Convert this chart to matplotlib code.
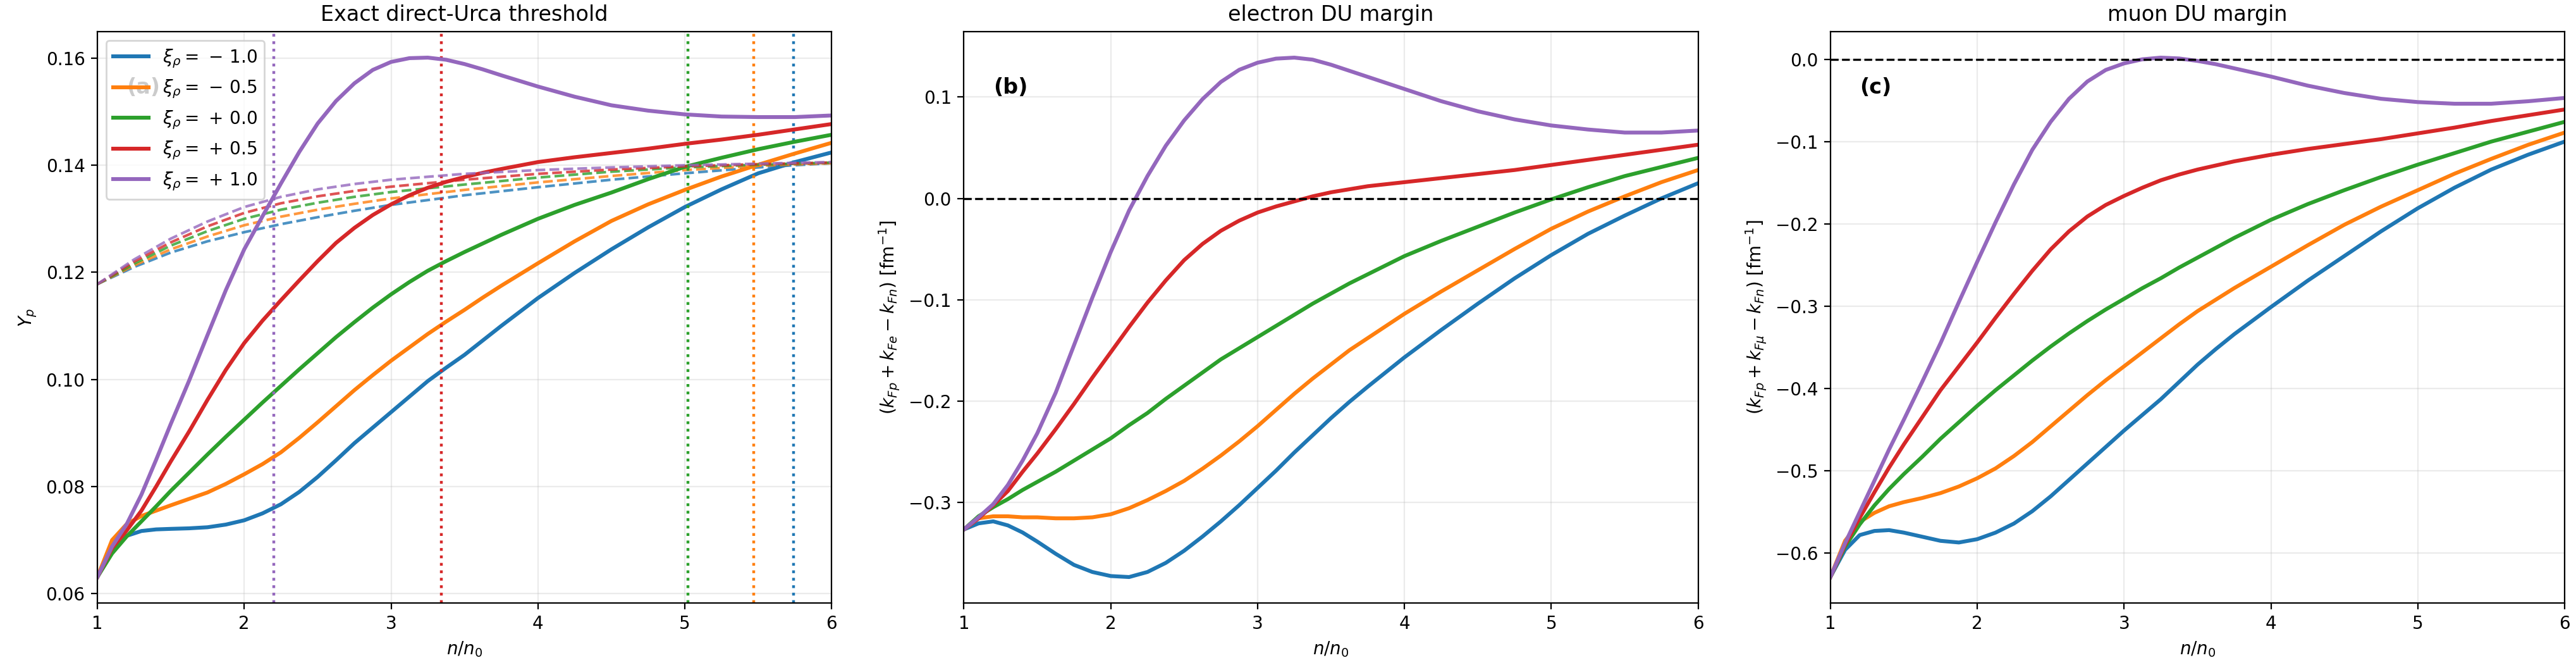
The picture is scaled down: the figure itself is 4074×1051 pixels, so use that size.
import numpy as np
import matplotlib
matplotlib.use('Agg')
import matplotlib.pyplot as plt

# density grid n/n0 shared by the solid curves
n_grid = [1.0, 1.1, 1.2, 1.3, 1.4, 1.5, 1.625, 1.75, 1.875, 2.0, 2.125, 2.25, 2.375,
          2.5, 2.625, 2.75, 2.875, 3.0, 3.125, 3.25, 3.375, 3.5, 3.625, 3.75,
          4.0, 4.25, 4.5, 4.75, 5.0, 5.25, 5.5, 5.75, 6.0]

xi_vals = [-1.0, -0.5, 0.0, 0.5, 1.0]
colors = ['C0', 'C1', 'C2', 'C3', 'C4']

# panel (a): proton fraction Y_p
yp_m10 = [0.0631, 0.0680, 0.0708, 0.0717, 0.0720, 0.0721, 0.0722, 0.0724, 0.0729, 0.0737,
          0.0750, 0.0767, 0.0790, 0.0818, 0.0849, 0.0881, 0.0910, 0.0939, 0.0968, 0.0997,
          0.1022, 0.1046, 0.1073, 0.1100, 0.1152, 0.1199, 0.1243, 0.1284, 0.1322, 0.1355,
          0.1385, 0.1406, 0.1424]
yp_m05 = [0.0631, 0.0700, 0.0730, 0.0745, 0.0755, 0.0765, 0.0777, 0.0789, 0.0805, 0.0823,
          0.0842, 0.0864, 0.0891, 0.0920, 0.0950, 0.0980, 0.1008, 0.1035, 0.1060, 0.1085,
          0.1108, 0.1130, 0.1153, 0.1175, 0.1217, 0.1258, 0.1296, 0.1327, 0.1354, 0.1379,
          0.1401, 0.1422, 0.1442]
yp_p00 = [0.0631, 0.0675, 0.0707, 0.0735, 0.0763, 0.0792, 0.0826, 0.0860, 0.0893, 0.0925,
          0.0957, 0.0988, 0.1019, 0.1049, 0.1079, 0.1107, 0.1134, 0.1159, 0.1182, 0.1203,
          0.1221, 0.1238, 0.1254, 0.1270, 0.1300, 0.1326, 0.1349, 0.1374, 0.1397, 0.1414,
          0.1430, 0.1444, 0.1457]
yp_p05 = [0.0631, 0.0685, 0.0718, 0.0755, 0.0800, 0.0847, 0.0903, 0.0962, 0.1018, 0.1068,
          0.1110, 0.1148, 0.1185, 0.1221, 0.1255, 0.1283, 0.1307, 0.1327, 0.1344, 0.1358,
          0.1369, 0.1378, 0.1386, 0.1393, 0.1406, 0.1415, 0.1423, 0.1431, 0.1440, 0.1448,
          0.1457, 0.1467, 0.1477]
yp_p10 = [0.0631, 0.0688, 0.0730, 0.0785, 0.0850, 0.0917, 0.0998, 0.1083, 0.1167, 0.1243,
          0.1305, 0.1366, 0.1425, 0.1478, 0.1520, 0.1553, 0.1578, 0.1593, 0.1600, 0.1601,
          0.1597, 0.1589, 0.1579, 0.1568, 0.1547, 0.1528, 0.1512, 0.1502, 0.1495, 0.1491,
          0.1490, 0.1490, 0.1493]

# DU threshold fraction (dashed)
n_thr = [1.0, 1.25, 1.5, 1.75, 2.0, 2.25, 2.5, 2.75, 3.0, 3.5, 4.0, 4.5, 5.0, 5.5, 6.0]
thr_m10 = [0.1178, 0.1210, 0.1237, 0.1258, 0.1275, 0.1290, 0.1303, 0.1315, 0.1326, 0.1344,
           0.1359, 0.1373, 0.1385, 0.1396, 0.1404]
thr_m05 = [0.1178, 0.1213, 0.1243, 0.1267, 0.1288, 0.1304, 0.1317, 0.1328, 0.1338, 0.1354,
           0.1368, 0.1380, 0.1391, 0.1399, 0.1404]
thr_p00 = [0.1178, 0.1216, 0.1250, 0.1277, 0.1300, 0.1317, 0.1330, 0.1341, 0.1350, 0.1364,
           0.1377, 0.1388, 0.1396, 0.1401, 0.1405]
thr_p05 = [0.1178, 0.1220, 0.1256, 0.1286, 0.1311, 0.1329, 0.1342, 0.1352, 0.1360, 0.1373,
           0.1384, 0.1392, 0.1398, 0.1402, 0.1405]
thr_p10 = [0.1178, 0.1224, 0.1263, 0.1295, 0.1322, 0.1341, 0.1355, 0.1365, 0.1373, 0.1384,
           0.1391, 0.1396, 0.1400, 0.1403, 0.1406]

# threshold densities (dotted verticals)
n_du = [5.74, 5.47, 5.02, 3.34, 2.20]

# panel (b): electron DU margin [fm^-1]
e_m10 = [-0.327, -0.321, -0.319, -0.323, -0.330, -0.339, -0.351, -0.362, -0.369, -0.373,
         -0.374, -0.369, -0.360, -0.348, -0.334, -0.319, -0.303, -0.286, -0.269, -0.251,
         -0.234, -0.217, -0.201, -0.186, -0.157, -0.130, -0.104, -0.079, -0.056, -0.035,
         -0.017, 0.000, 0.015]
e_m05 = [-0.327, -0.316, -0.314, -0.314, -0.315, -0.315, -0.316, -0.316, -0.315, -0.312,
         -0.306, -0.298, -0.289, -0.279, -0.267, -0.254, -0.240, -0.225, -0.209, -0.193,
         -0.178, -0.164, -0.150, -0.138, -0.114, -0.092, -0.071, -0.050, -0.030, -0.013,
         0.002, 0.016, 0.028]
e_p00 = [-0.327, -0.314, -0.305, -0.297, -0.288, -0.280, -0.270, -0.259, -0.248, -0.237,
         -0.224, -0.212, -0.198, -0.185, -0.172, -0.159, -0.148, -0.137, -0.126, -0.115,
         -0.104, -0.094, -0.084, -0.075, -0.057, -0.042, -0.028, -0.014, -0.001, 0.011,
         0.022, 0.031, 0.040]
e_p05 = [-0.327, -0.316, -0.303, -0.289, -0.270, -0.252, -0.228, -0.203, -0.177, -0.152,
         -0.127, -0.103, -0.081, -0.061, -0.045, -0.032, -0.022, -0.014, -0.008, -0.003,
         0.002, 0.006, 0.009, 0.012, 0.016, 0.020, 0.024, 0.028, 0.033, 0.038,
         0.043, 0.048, 0.053]
e_p10 = [-0.327, -0.315, -0.302, -0.283, -0.259, -0.232, -0.192, -0.145, -0.098, -0.053,
         -0.012, 0.022, 0.052, 0.077, 0.098, 0.115, 0.127, 0.134, 0.138, 0.139,
         0.137, 0.132, 0.126, 0.120, 0.108, 0.096, 0.086, 0.078, 0.072, 0.068,
         0.065, 0.065, 0.067]

# panel (c): muon DU margin [fm^-1]
mu_m10 = [-0.629, -0.596, -0.578, -0.573, -0.572, -0.575, -0.580, -0.585, -0.587, -0.583,
          -0.575, -0.564, -0.549, -0.531, -0.511, -0.491, -0.471, -0.451, -0.432, -0.413,
          -0.392, -0.371, -0.352, -0.334, -0.301, -0.269, -0.239, -0.209, -0.181, -0.156,
          -0.134, -0.116, -0.100]
mu_m05 = [-0.629, -0.585, -0.562, -0.551, -0.543, -0.538, -0.533, -0.527, -0.519, -0.509,
          -0.497, -0.482, -0.465, -0.446, -0.427, -0.408, -0.390, -0.373, -0.356, -0.339,
          -0.322, -0.306, -0.292, -0.278, -0.252, -0.226, -0.201, -0.179, -0.159, -0.139,
          -0.121, -0.104, -0.089]
mu_p00 = [-0.629, -0.592, -0.565, -0.542, -0.522, -0.504, -0.483, -0.461, -0.441, -0.421,
          -0.402, -0.384, -0.366, -0.349, -0.333, -0.318, -0.304, -0.291, -0.278, -0.266,
          -0.253, -0.241, -0.229, -0.217, -0.195, -0.176, -0.159, -0.143, -0.128, -0.114,
          -0.100, -0.088, -0.076]
mu_p05 = [-0.629, -0.590, -0.557, -0.526, -0.496, -0.468, -0.435, -0.402, -0.373, -0.344,
          -0.314, -0.285, -0.257, -0.231, -0.209, -0.191, -0.177, -0.166, -0.156, -0.147,
          -0.140, -0.134, -0.129, -0.124, -0.116, -0.109, -0.103, -0.097, -0.090, -0.083,
          -0.075, -0.068, -0.061]
mu_p10 = [-0.629, -0.588, -0.550, -0.512, -0.474, -0.438, -0.392, -0.345, -0.295, -0.246,
          -0.198, -0.152, -0.110, -0.076, -0.048, -0.027, -0.013, -0.005, 0.000, 0.002,
          0.001, -0.002, -0.006, -0.011, -0.021, -0.032, -0.041, -0.048, -0.052, -0.054,
          -0.054, -0.051, -0.047]

yp_all = [yp_m10, yp_m05, yp_p00, yp_p05, yp_p10]
thr_all = [thr_m10, thr_m05, thr_p00, thr_p05, thr_p10]
e_all = [e_m10, e_m05, e_p00, e_p05, e_p10]
mu_all = [mu_m10, mu_m05, mu_p00, mu_p05, mu_p10]


def xi_label(xi):
    sign = '-' if xi < 0 else '+'
    return r'$\xi_\rho = \,%s\,%.1f$' % (sign, abs(xi))


fig, axes = plt.subplots(1, 3, figsize=(20.37, 5.255), dpi=200)
fig.subplots_adjust(left=0.0378, right=0.9956, bottom=0.0932, top=0.9524, wspace=0.18)
ax1, ax2, ax3 = axes

# (a) Y_p and threshold
for i in range(5):
    ax1.plot(n_grid, yp_all[i], color=colors[i], lw=2.2, label=xi_label(xi_vals[i]))
    ax1.plot(n_thr, thr_all[i], color=colors[i], lw=1.5, ls='--', alpha=0.8)
    ax1.axvline(n_du[i], color=colors[i], lw=1.6, ls=':')
ax1.set_title('Exact direct-Urca threshold')
ax1.set_ylabel(r'$Y_p$')
ax1.text(0.04, 0.92, '(a)', transform=ax1.transAxes, fontsize=12,
         fontweight='bold', va='top')
ax1.legend(loc='upper left')

# (b) electron margin
for i in range(5):
    ax2.plot(n_grid, e_all[i], color=colors[i], lw=2.2)
ax2.axhline(0.0, color='k', lw=1.2, ls='--')
ax2.set_title('electron DU margin')
ax2.set_ylabel(r'$(k_{Fp}+k_{Fe}-k_{Fn})$ [fm$^{-1}$]')
ax2.text(0.04, 0.92, '(b)', transform=ax2.transAxes, fontsize=12,
         fontweight='bold', va='top')

# (c) muon margin
for i in range(5):
    ax3.plot(n_grid, mu_all[i], color=colors[i], lw=2.2)
ax3.axhline(0.0, color='k', lw=1.2, ls='--')
ax3.set_title('muon DU margin')
ax3.set_ylabel(r'$(k_{Fp}+k_{F\mu}-k_{Fn})$ [fm$^{-1}$]')
ax3.text(0.04, 0.92, '(c)', transform=ax3.transAxes, fontsize=12,
         fontweight='bold', va='top')

for ax in axes:
    ax.set_xlim(1, 6)
    ax.set_xlabel(r'$n/n_0$')
    ax.grid(True, alpha=0.25)

fig.savefig('out.png', dpi=200)
